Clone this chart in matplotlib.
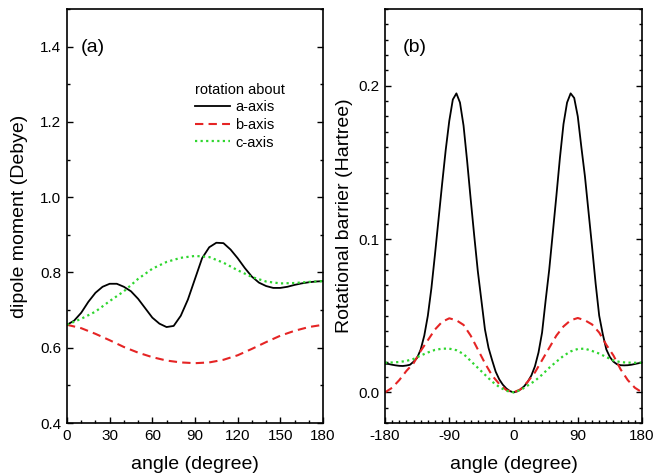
import numpy as np
import matplotlib.pyplot as plt
from matplotlib.ticker import MultipleLocator, FormatStrFormatter

plt.rcParams['font.family'] = ['Liberation Sans', 'DejaVu Sans']
plt.rcParams['axes.unicode_minus'] = False

# (a) dipole moment vs rotation angle
ang_a5 = np.arange(0, 181, 5)
dip_a = [0.661, 0.672, 0.693, 0.722, 0.746, 0.762, 0.770, 0.770, 0.762, 0.750,
         0.730, 0.705, 0.680, 0.664, 0.655, 0.658, 0.685, 0.728, 0.783, 0.838,
         0.867, 0.879, 0.878, 0.861, 0.838, 0.812, 0.789, 0.773, 0.764, 0.759,
         0.759, 0.762, 0.767, 0.771, 0.774, 0.776, 0.777]
ang_a10 = np.arange(0, 181, 10)
dip_b = [0.661, 0.652, 0.637, 0.620, 0.602, 0.587, 0.575, 0.566, 0.561, 0.559,
         0.561, 0.568, 0.580, 0.597, 0.615, 0.632, 0.645, 0.655, 0.661]
dip_c = [0.661, 0.677, 0.696, 0.724, 0.750, 0.783, 0.810, 0.828, 0.839, 0.844,
         0.841, 0.826, 0.806, 0.788, 0.776, 0.771, 0.772, 0.775, 0.777]

# (b) rotational barrier
ang_b5 = np.arange(-180, 181, 5)
bar_a = [0.0187, 0.0185, 0.0180, 0.0176, 0.0173, 0.0172, 0.0175, 0.0180, 0.0200,
         0.0225, 0.028, 0.037, 0.050, 0.068, 0.090, 0.113, 0.136, 0.158, 0.177,
         0.191, 0.195, 0.189, 0.174, 0.151, 0.126, 0.102, 0.079, 0.060, 0.041,
         0.029, 0.021, 0.0135, 0.0085, 0.005, 0.0025, 0.0008,
         0.0,
         0.0006, 0.002, 0.004, 0.007, 0.011, 0.017, 0.026, 0.039, 0.060, 0.080,
         0.104, 0.128, 0.153, 0.175, 0.189, 0.195, 0.192, 0.180, 0.160, 0.141,
         0.118, 0.095, 0.071, 0.050, 0.038, 0.028, 0.023, 0.020, 0.0183, 0.0177,
         0.0176, 0.0177, 0.0180, 0.0185, 0.0190, 0.0193]
ang_b10 = np.arange(-180, 181, 10)
bar_b = [0.0, 0.003, 0.008, 0.014, 0.019, 0.027, 0.034, 0.041, 0.046, 0.0483,
         0.047, 0.044, 0.037, 0.028, 0.019, 0.011, 0.0055, 0.0015,
         0.0,
         0.002, 0.007, 0.013, 0.021, 0.029, 0.037, 0.043, 0.047, 0.0485, 0.047,
         0.0443, 0.039, 0.031, 0.024, 0.015, 0.008, 0.003, 0.0]
bar_c = [0.0193, 0.0195, 0.0198, 0.0205, 0.0218, 0.024, 0.026, 0.0277, 0.0285, 0.0285,
         0.0275, 0.025, 0.0205, 0.016, 0.0115, 0.007, 0.0035, 0.001,
         0.0,
         0.0015, 0.0045, 0.0075, 0.0115, 0.016, 0.020, 0.0238, 0.0267, 0.0283, 0.0285,
         0.027, 0.0253, 0.023, 0.0208, 0.0197, 0.0194, 0.0193, 0.0193]

red = '#e52424'
green = '#2fd62f'

fig = plt.figure(figsize=(6.55, 4.76), dpi=100)
ax1 = fig.add_axes([0.1023, 0.1113, 0.3908, 0.8697])
ax2 = fig.add_axes([0.5878, 0.1113, 0.3924, 0.8697])

ax1.plot(ang_a5, dip_a, color='black', lw=1.3, label='a-axis')
ax1.plot(ang_a10, dip_b, color=red, lw=1.5, ls=(0, (4, 2.5)), label='b-axis')
ax1.plot(ang_a10, dip_c, color=green, lw=1.6, ls=(0, (1, 1.5)), label='c-axis')
ax1.set_xlim(0, 180)
ax1.set_ylim(0.4, 1.5)
ax1.xaxis.set_major_locator(MultipleLocator(30))
ax1.xaxis.set_minor_locator(MultipleLocator(10))
ax1.yaxis.set_minor_locator(MultipleLocator(0.1))
ax1.set_yticks([0.4, 0.6, 0.8, 1.0, 1.2, 1.4])
ax1.yaxis.set_major_formatter(FormatStrFormatter('%.1f'))
ax1.set_xlabel('angle (degree)', fontsize=14, labelpad=10)
ax1.set_ylabel('dipole moment (Debye)', fontsize=14, labelpad=9)
ax1.text(0.055, 0.908, '(a)', transform=ax1.transAxes, fontsize=14, va='center')
leg = ax1.legend(title='rotation about', loc='upper left', bbox_to_anchor=(0.47, 0.84),
                 frameon=False, fontsize=10.5, title_fontsize=10.5, alignment='left',
                 handlelength=2.4, handletextpad=0.4, labelspacing=0.25, borderpad=0)

ax2.plot(ang_b5, bar_a, color='black', lw=1.3)
ax2.plot(ang_b10, bar_b, color=red, lw=1.5, ls=(0, (4, 2.5)))
ax2.plot(ang_b10, bar_c, color=green, lw=1.6, ls=(0, (1, 1.5)))
ax2.set_xlim(-180, 180)
ax2.set_ylim(-0.02, 0.25)
ax2.xaxis.set_major_locator(MultipleLocator(90))
ax2.xaxis.set_minor_locator(MultipleLocator(10))
ax2.yaxis.set_minor_locator(MultipleLocator(0.01))
ax2.set_yticks([0.0, 0.1, 0.2])
ax2.yaxis.set_major_formatter(FormatStrFormatter('%.1f'))
ax2.set_xlabel('angle (degree)', fontsize=14, labelpad=10)
ax2.set_ylabel('Rotational barrier (Hartree)', fontsize=14, labelpad=4)
ax2.text(0.07, 0.908, '(b)', transform=ax2.transAxes, fontsize=14, va='center')

for ax in (ax1, ax2):
    ax.tick_params(which='both', direction='in', top=False, right=True, labelsize=11, pad=4)
    ax.tick_params(which='major', length=4, width=1)
    ax.tick_params(which='minor', length=2.5, width=1)
    for s in ax.spines.values():
        s.set_linewidth(1.2)

fig.savefig('out.png', dpi=100)
